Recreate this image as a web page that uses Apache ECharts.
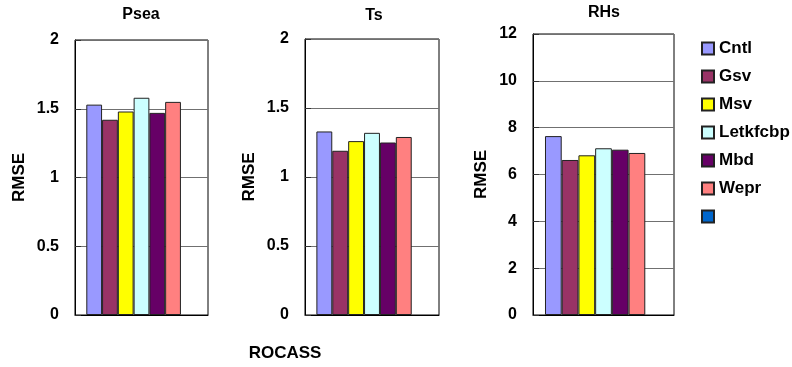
<!DOCTYPE html>
<html>
<head>
<meta charset="utf-8">
<script src="https://cdn.jsdelivr.net/npm/echarts@6/dist/echarts.min.js"></script>
<style>
html,body{margin:0;padding:0;background:#fff;}
#chart{width:792px;height:367px;}
</style>
</head>
<body>
<div id="chart"></div>
<script>
// ---- data ----
const categories = ['ROCASS'];
const seriesNames = ['Cntl', 'Gsv', 'Msv', 'Letkfcbp', 'Mbd', 'Wepr', ' '];
const psea = [1.53, 1.42, 1.48, 1.58, 1.47, 1.55];
const ts = [1.33, 1.19, 1.26, 1.32, 1.25, 1.29];
const rhs = [7.64, 6.62, 6.82, 7.12, 7.06, 6.92];
const panelTitles = ['Psea', 'Ts', 'RHs'];
const yMax = [2, 2, 12];
const yInterval = [0.5, 0.5, 2];
const xTitle = 'ROCASS';
const yTitle = 'RMSE';

// ---- style ----
const colors = ['#9999FF', '#993366', '#FFFF00', '#CCFFFF', '#660066', '#FF8080', '#0066CC'];
const FONT = '"Liberation Sans", Arial, sans-serif';
const panelData = [psea, ts, rhs];
const grids = [
  {left: 75, top: 40, width: 133, height: 275},
  {left: 305, top: 39, width: 134, height: 276},
  {left: 533, top: 34, width: 141, height: 281}
];
const nameGaps = [47, 47, 43];
const titleCenters = [[141, 15], [374, 16], [604, 13]];

const chart = echarts.init(document.getElementById('chart'), null, {renderer: 'canvas'});

const xAxes = [], yAxes = [], series = [], graphics = [];
grids.forEach((g, i) => {
  g.show = true;
  g.borderColor = '#000';
  g.borderWidth = 1;
  g.backgroundColor = '#fff';
  xAxes.push({
    type: 'category', gridIndex: i, data: categories,
    axisLine: {show: true, lineStyle: {color: '#000', width: 1}},
    axisTick: {show: false}, axisLabel: {show: false}, splitLine: {show: false}
  });
  yAxes.push({
    type: 'value', gridIndex: i, min: 0, max: yMax[i], interval: yInterval[i],
    name: yTitle, nameLocation: 'middle', nameRotate: 90, nameGap: nameGaps[i],
    nameTextStyle: {fontFamily: FONT, fontWeight: 'bold', fontSize: 17, color: '#000'},
    axisLine: {show: true, lineStyle: {color: '#000', width: 1}},
    axisTick: {show: true, inside: true, length: 6, lineStyle: {color: '#333'}},
    axisLabel: {fontFamily: FONT, fontWeight: 'bold', fontSize: 16, color: '#000', margin: 16},
    splitLine: {show: true, lineStyle: {color: '#707070', width: 1}}
  });
  seriesNames.forEach((name, k) => {
    series.push({
      type: 'bar', name: name, xAxisIndex: i, yAxisIndex: i,
      data: k < 6 ? [panelData[i][k]] : [null],
      barGap: '0%', barCategoryGap: '17%',
      itemStyle: {color: colors[k], borderColor: '#222', borderWidth: 1},
      animation: false
    });
  });
  graphics.push({
    type: 'text', x: titleCenters[i][0], y: titleCenters[i][1],
    style: {text: panelTitles[i], font: 'bold 16px ' + FONT, fill: '#000',
            textAlign: 'center', textVerticalAlign: 'middle', align: 'center', verticalAlign: 'middle'}
  });
});
graphics.push({
  type: 'text', x: 285, y: 353,
  style: {text: xTitle, font: 'bold 17px ' + FONT, fill: '#000',
          textAlign: 'center', textVerticalAlign: 'middle', align: 'center', verticalAlign: 'middle'}
});

chart.setOption({
  backgroundColor: '#fff',
  animation: false,
  grid: grids,
  xAxis: xAxes,
  yAxis: yAxes,
  series: series,
  graphic: graphics,
  legend: {
    orient: 'vertical', left: 696, top: 35,
    data: seriesNames, icon: 'rect',
    itemWidth: 12, itemHeight: 12, itemGap: 11,
    textStyle: {fontFamily: FONT, fontWeight: 'bold', fontSize: 17, color: '#000'},
    selectedMode: false
  }
});
</script>
</body>
</html>
